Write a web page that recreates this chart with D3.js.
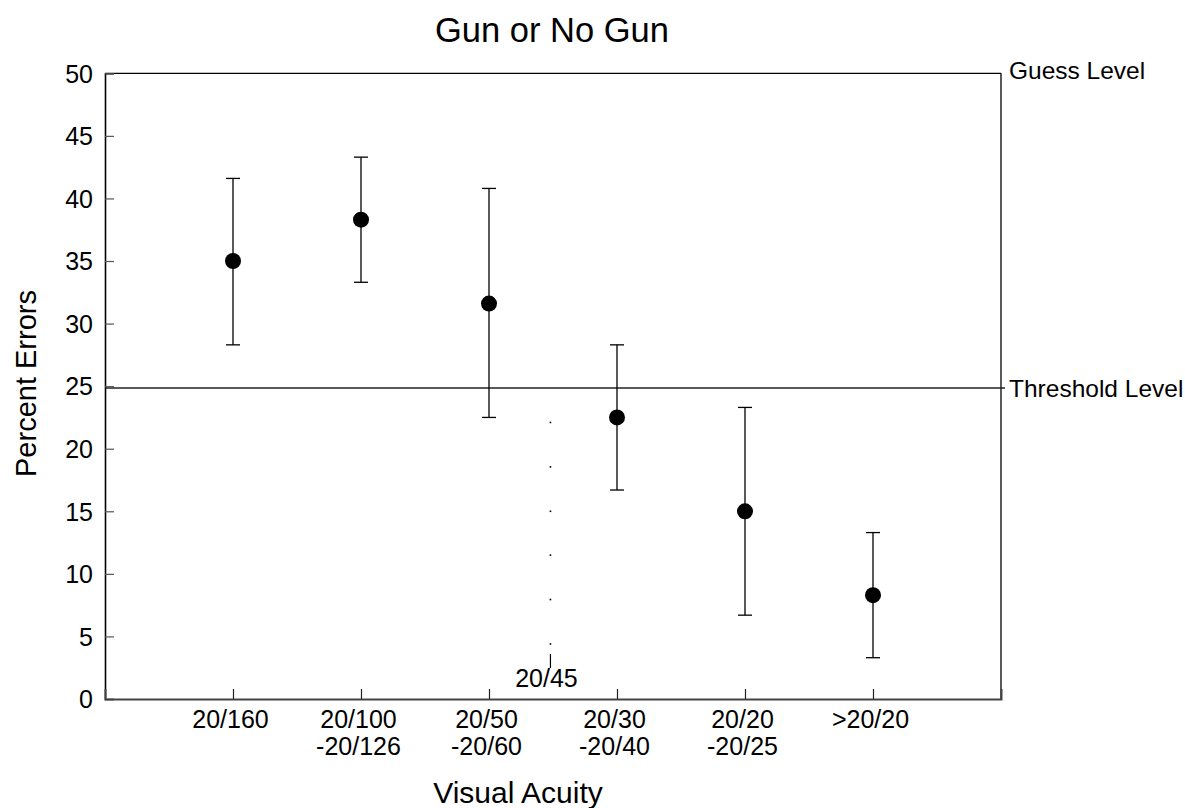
<!DOCTYPE html>
<html>
<head>
<meta charset="utf-8">
<script src="https://cdn.jsdelivr.net/npm/d3@7"></script>
<style>
  html, body { margin: 0; padding: 0; background: #fff; }
  svg { display: block; font-family: "Liberation Sans", Arial, sans-serif; }
</style>
</head>
<body>
<svg id="chart" width="1185" height="808"></svg>
<script>
// ---- data ----
const categories = [["20/160"], ["20/100", "-20/126"], ["20/50", "-20/60"], ["20/30", "-20/40"], ["20/20", "-20/25"], [">20/20"]];
const categoryPos = [1, 2, 3, 4, 5, 6];
const meanErrors = [35.0, 38.3, 31.6, 22.5, 15.0, 8.3];
const lowerErrors = [28.3, 33.3, 22.5, 16.7, 6.7, 3.3];
const upperErrors = [41.6, 43.3, 40.8, 28.3, 23.3, 13.3];
const yTicks = [0, 5, 10, 15, 20, 25, 30, 35, 40, 45, 50];
const guessLevel = 50;
const thresholdLevel = 24.85;
const markerLabel = "20/45";
const markerPos = 3.48;
const markerDots = [22.1, 18.55, 15.0, 11.5, 7.95, 4.4];

// ---- layout ----
const svg = d3.select("#chart");
const mLeft = 105, mRight = 1001, mTop = 73.3, mBottom = 699;
const x = d3.scaleLinear().domain([0, 7]).range([mLeft, mRight]);
const y = d3.scaleLinear().domain([0, 50]).range([mBottom, mTop]);

// title
svg.append("text").attr("x", 552).attr("y", 42).attr("text-anchor", "middle")
  .attr("font-size", 34.5).text("Gun or No Gun");

// frame top & right
svg.append("line").attr("x1", mLeft).attr("x2", mRight).attr("y1", mTop).attr("y2", mTop)
  .attr("stroke", "#000").attr("stroke-width", 1.3);
svg.append("line").attr("x1", mRight).attr("x2", mRight).attr("y1", mTop).attr("y2", mBottom)
  .attr("stroke", "#000").attr("stroke-width", 1.3);

// threshold line
svg.append("line").attr("x1", mLeft).attr("x2", mRight + 4)
  .attr("y1", y(thresholdLevel)).attr("y2", y(thresholdLevel))
  .attr("stroke", "#222").attr("stroke-width", 1.4);

// y axis
const yAxis = d3.axisLeft(y).tickValues(yTicks).tickSize(-9).tickPadding(22);
const gy = svg.append("g").attr("transform", `translate(${mLeft},0)`).call(yAxis);
gy.select(".domain").attr("stroke", "#000").attr("stroke-width", 1.6);
gy.selectAll(".tick line").attr("stroke", "#555").attr("stroke-width", 1.2);
gy.selectAll(".tick text").attr("font-size", 25).attr("fill", "#000")
  .attr("font-family", "Liberation Sans, Arial, sans-serif").attr("dy", "0.35em").attr("x", -12);

// x axis
const xAxis = d3.axisBottom(x).tickValues(categoryPos).tickSize(-10).tickFormat("");
const gx = svg.append("g").attr("transform", `translate(0,${mBottom})`).call(xAxis);
gx.select(".domain").attr("stroke", "#444").attr("stroke-width", 2);
gx.selectAll(".tick line").attr("stroke", "#222").attr("stroke-width", 1.2);

// category labels (multi-line)
const labels = svg.append("g");
categories.forEach((lines, i) => {
  const t = labels.append("text").attr("text-anchor", "middle").attr("font-size", 25)
    .attr("x", x(categoryPos[i]) - 2.5).attr("y", 728);
  lines.forEach((ln, j) => {
    t.append("tspan").attr("x", x(categoryPos[i]) - 2.5).attr("dy", j === 0 ? 0 : 27).text(ln);
  });
});

// 20/45 marker
svg.append("line").attr("x1", x(markerPos)).attr("x2", x(markerPos))
  .attr("y1", 654).attr("y2", 668).attr("stroke", "#000").attr("stroke-width", 1.2);
svg.append("text").attr("x", x(markerPos) - 4).attr("y", 687).attr("text-anchor", "middle")
  .attr("font-size", 25).text(markerLabel);
svg.append("g").selectAll("rect").data(markerDots).join("rect")
  .attr("x", x(markerPos) - 0.8).attr("y", d => y(d) - 0.8).attr("width", 1.6).attr("height", 1.6)
  .attr("fill", "#000");

// error bars
const bars = svg.append("g");
categoryPos.forEach((p, i) => {
  const cx = x(p);
  bars.append("line").attr("x1", cx).attr("x2", cx)
    .attr("y1", y(lowerErrors[i])).attr("y2", y(upperErrors[i]))
    .attr("stroke", "#000").attr("stroke-width", 1.3);
  [lowerErrors[i], upperErrors[i]].forEach(v => {
    bars.append("line").attr("x1", cx - 7).attr("x2", cx + 7)
      .attr("y1", y(v)).attr("y2", y(v)).attr("stroke", "#000").attr("stroke-width", 1.3);
  });
});

// points
svg.append("g").selectAll("circle").data(meanErrors).join("circle")
  .attr("cx", (d, i) => x(categoryPos[i])).attr("cy", d => y(d)).attr("r", 8).attr("fill", "#000");

// right labels
svg.append("text").attr("x", 1009).attr("y", y(guessLevel)).attr("dy", "0.25em")
  .attr("font-size", 24.5).text("Guess Level");
svg.append("text").attr("x", 1009).attr("y", y(thresholdLevel)).attr("dy", "0.35em")
  .attr("font-size", 24.5).text("Threshold Level");

// axis titles
svg.append("text").attr("x", 518).attr("y", 803).attr("text-anchor", "middle")
  .attr("font-size", 30).text("Visual Acuity");
svg.append("text").attr("transform", "translate(36,383.5) rotate(-90)")
  .attr("text-anchor", "middle").attr("font-size", 29).text("Percent Errors");
</script>
</body>
</html>
